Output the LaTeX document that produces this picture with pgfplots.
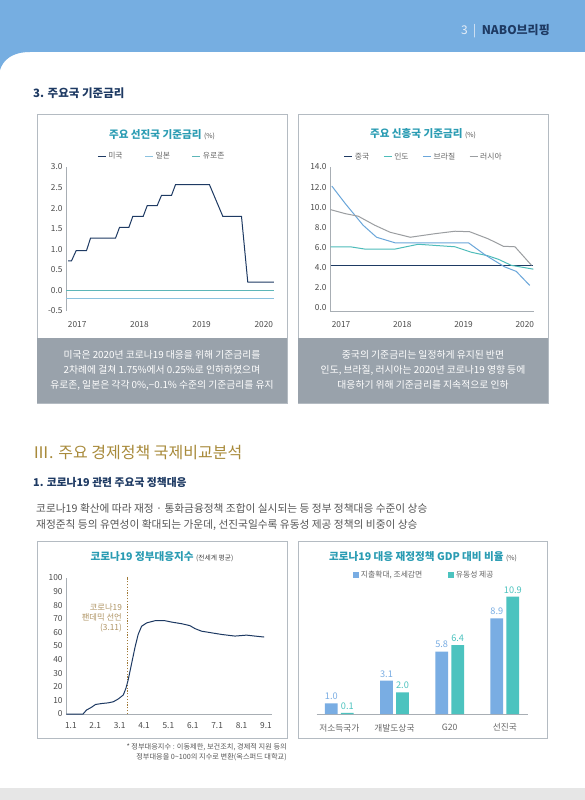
\documentclass[border=0pt]{standalone}
\usepackage{fontspec}
\setmainfont{Noto Sans CJK KR}
\usepackage{pgfplots}
\pgfplotsset{compat=1.18}
\definecolor{hdrblue}{HTML}{76AEE1}
\definecolor{hdrlight}{HTML}{E6EEF7}
\definecolor{navy}{HTML}{1E3A63}
\definecolor{titleteal}{HTML}{2A9CB3}
\definecolor{boxline}{HTML}{B4BBC2}
\definecolor{capgray}{HTML}{99A2AB}
\definecolor{axisgray}{HTML}{A8AEB4}
\definecolor{ticktext}{HTML}{4A4A4A}
\definecolor{legtext}{HTML}{666666}
\definecolor{gold}{HTML}{A88A3A}
\definecolor{bodygray}{HTML}{555555}
\definecolor{euteal}{HTML}{5DB6B8}
\definecolor{jplblue}{HTML}{8BC2DF}
\definecolor{inteal}{HTML}{4DBCBA}
\definecolor{brblue}{HTML}{6AA6DA}
\definecolor{rugray}{HTML}{9B9EA1}
\definecolor{tancol}{HTML}{B09565}
\definecolor{dotbrown}{HTML}{A07A38}
\definecolor{barblue}{HTML}{79ADE3}
\definecolor{barteal}{HTML}{4CC3BF}
\definecolor{footgray}{HTML}{E6E6E6}

\pgfplotsset{
  myaxis/.style={
    scale only axis,
    axis line style={draw=axisgray, line width=0.6pt},
    major tick style={draw=none},
    tick label style={font=\fontsize{8.3}{9}\selectfont, text=ticktext},
    /pgf/number format/assume math mode=true,
    legend cell align=left,
    clip=false,
  },
  lineleg/.style={
    legend style={draw=none, fill=none, font=\fontsize{7.8}{9}\selectfont, text=legtext, inner sep=0pt,
      /tikz/every even column/.append style={column sep=#1}},
    legend image code/.code={\draw[##1, line width=1pt] (0pt,0pt) -- (8pt,0pt);},
  },
}

\begin{document}
\begin{tikzpicture}[x=1pt,y=1pt]
\useasboundingbox (0,0) rectangle (585,-800);
\fill[white] (0,0) rectangle (585,-800);
% header
\fill[hdrblue] (0,0) -- (585,0) -- (585,-52) -- (30,-52) .. controls (12,-52) and (3,-60) .. (0,-70) -- cycle;
\node[anchor=east, inner sep=0pt, font=\fontsize{12}{14}\selectfont] at (550,-31)
  {{\color{hdrlight}3\ \ |\ \ }{\bfseries\color{navy}NABO브리핑}};
\fill[footgray] (0,-788) rectangle (585,-800);

% headings
\node[anchor=west, inner sep=0pt, font=\fontsize{11.5}{13}\selectfont\bfseries, text=navy] at (33,-93) {3. 주요국 기준금리};
\node[anchor=west, inner sep=0pt, font=\fontsize{16}{18}\selectfont, text=gold] at (33,-453) {Ⅲ. 주요 경제정책 국제비교분석};
\node[anchor=west, inner sep=0pt, font=\fontsize{10.8}{12}\selectfont\bfseries, text=navy] at (33,-482) {1. 코로나19 관련 주요국 정책대응};
\node[anchor=west, inner sep=0pt, font=\fontsize{10.7}{12}\selectfont, text=bodygray] at (36,-508) {코로나19 확산에 따라 재정 · 통화금융정책 조합이 실시되는 등 정부 정책대응 수준이 상승};
\node[anchor=west, inner sep=0pt, font=\fontsize{10.7}{12}\selectfont, text=bodygray] at (36,-525) {재정준칙 등의 유연성이 확대되는 가운데, 선진국일수록 유동성 제공 정책의 비중이 상승};

% boxes
\draw[boxline, line width=0.8pt, fill=white] (37,-114) rectangle (287,-403);
\draw[boxline, line width=0.8pt, fill=white] (298,-114) rectangle (548,-403);
\fill[capgray] (37,-338) rectangle (287,-403);
\fill[capgray] (298,-338) rectangle (548,-403);
\draw[boxline, line width=0.8pt, fill=white] (37,-541) rectangle (287,-738);
\draw[boxline, line width=0.8pt, fill=white] (298,-541) rectangle (547,-738);

% captions
\node[align=center, text=white, font=\fontsize{9.8}{15}\selectfont, inner sep=0pt] at (162,-370)
 {미국은 2020년 코로나19 대응을 위해 기준금리를\\2차례에 걸쳐 1.75\%에서 0.25\%로 인하하였으며\\유로존, 일본은 각각 0\%,−0.1\% 수준의 기준금리를 유지};
\node[align=center, text=white, font=\fontsize{9.8}{15}\selectfont, inner sep=0pt] at (423,-370)
 {중국의 기준금리는 일정하게 유지된 반면\\인도, 브라질, 러시아는 2020년 코로나19 영향 등에\\대응하기 위해 기준금리를 지속적으로 인하};

% titles
\node[text=titleteal, font=\fontsize{10.6}{12}\selectfont\bfseries, inner sep=0pt] at (162,-135) {주요 선진국 기준금리 {\mdseries\color{ticktext}\fontsize{6.8}{8}\selectfont (\%)}};
\node[text=titleteal, font=\fontsize{10.6}{12}\selectfont\bfseries, inner sep=0pt] at (423,-134) {주요 신흥국 기준금리 {\mdseries\color{ticktext}\fontsize{6.8}{8}\selectfont (\%)}};
\node[text=titleteal, font=\fontsize{10.6}{12}\selectfont\bfseries, inner sep=0pt] at (162,-557) {코로나19 정부대응지수 {\mdseries\color{ticktext}\fontsize{6.8}{8}\selectfont (전세계 평균)}};
\node[text=titleteal, font=\fontsize{10.6}{12}\selectfont\bfseries, inner sep=0pt] at (423,-557) {코로나19 대응 재정정책 GDP 대비 비율 {\mdseries\color{ticktext}\fontsize{6.8}{8}\selectfont (\%)}};

% footnote
\node[align=right, anchor=north east, text=bodygray, font=\fontsize{7.2}{10.5}\selectfont, inner sep=0pt] at (287,-743)
 {* 정부대응지수 : 이동제한, 보건조치, 경제적 지원 등의\\정부대응을 0\textasciitilde100의 지수로 변환(옥스퍼드 대학교)};

% ---------- Chart 1 ----------
\begin{axis}[myaxis, lineleg=20pt, at={(66pt,-311pt)}, anchor=south west, width=208.4pt, height=144pt,
  xmin=2016.82, xmax=2020.17, ymin=-0.5, ymax=3.0,
  axis y line*=left, axis x line*=bottom, x axis line style={draw=none},
  xtick={2017,2018,2019,2020}, xticklabels={2017,2018,2019,2020},
  xticklabel style={yshift=-7pt},
  ytick={-0.5,0,0.5,1,1.5,2,2.5,3},
  yticklabel style={/pgf/number format/.cd, fixed, fixed zerofill, precision=1},
  legend columns=3, legend style={at={(0.46,1.076)}, anchor=center}]
\addplot[navy, line width=1pt] coordinates {(2016.855,0.72)(2016.909,0.72)(2016.984,0.97)(2017.150,0.97)(2017.214,1.27)(2017.616,1.27)(2017.680,1.53)(2017.830,1.53)(2017.894,1.80)(2018.061,1.80)(2018.125,2.06)(2018.285,2.06)(2018.355,2.31)(2018.516,2.31)(2018.580,2.57)(2019.126,2.57)(2019.341,1.80)(2019.641,1.80)(2019.742,0.20)(2020.160,0.20)};
\addlegendentry{미국}
\addplot[jplblue, line width=1pt] coordinates {(2016.82,-0.19)(2020.16,-0.19)};
\addlegendentry{일본}
\addplot[euteal, line width=1.2pt] coordinates {(2016.82,0)(2020.16,0)};
\addlegendentry{유로존}
\end{axis}

% ---------- Chart 2 ----------
\begin{axis}[myaxis, lineleg=12pt, at={(330pt,-311pt)}, anchor=south west, width=204pt, height=144pt,
  xmin=2016.82, xmax=2020.15, ymin=-0.35, ymax=14,
  axis y line*=left, axis x line*=bottom,
  xtick={2017,2018,2019,2020}, xticklabels={2017,2018,2019,2020},
  xticklabel style={yshift=-7pt},
  ytick={0,2,4,6,8,10,12,14},
  yticklabel style={/pgf/number format/.cd, fixed, fixed zerofill, precision=1},
  legend columns=4, legend style={at={(0.46,1.07)}, anchor=center}]
\addplot[navy, line width=1pt] coordinates {(2016.83,4.2)(2020.14,4.2)};
\addlegendentry{중국}
\addplot[inteal, line width=1pt] coordinates {(2016.83,6.05)(2017.15,6.05)(2017.39,5.82)(2017.88,5.82)(2018.26,6.3)(2018.86,6.05)(2019.13,5.5)(2019.40,5.15)(2019.57,4.8)(2019.78,4.2)(2020.14,3.82)};
\addlegendentry{인도}
\addplot[brblue, line width=1pt] coordinates {(2016.85,12.1)(2017.07,10.35)(2017.36,8.2)(2017.58,7.0)(2017.88,6.45)(2019.08,6.45)(2019.35,5.25)(2019.67,4.05)(2019.86,3.6)(2020.08,2.2)};
\addlegendentry{브라질}
\addplot[rugray, line width=1pt] coordinates {(2016.83,9.75)(2017.07,9.35)(2017.28,9.1)(2017.55,8.2)(2017.80,7.5)(2018.13,7.0)(2018.53,7.35)(2018.86,7.6)(2019.10,7.55)(2019.40,6.85)(2019.65,6.1)(2019.84,6.05)(2020.11,4.2)};
\addlegendentry{러시아}
\end{axis}

% ---------- Chart 3 ----------
\begin{axis}[myaxis, at={(66pt,-714pt)}, anchor=south west, width=206pt, height=136pt,
  xmin=-0.2, xmax=8.25, ymin=0, ymax=100,
  axis y line*=left, axis x line*=bottom,
  xtick={0,1,2,3,4,5,6,7,8}, xticklabels={1.1,2.1,3.1,4.1,5.1,6.1,7.1,8.1,9.1},
  xticklabel style={yshift=-5pt},
  ytick={0,10,20,30,40,50,60,70,80,90,100}]
\addplot[dotbrown, line width=0.9pt, dash pattern=on 1.2pt off 1.6pt] coordinates {(2.32,0)(2.32,101)};
\addplot[navy, line width=1pt] coordinates {(-0.18,0)(0.5,0)(0.64,2.9)(0.85,5)(1.01,7)(1.26,7.7)(1.53,8.2)(1.74,9)(1.94,11)(2.15,14)(2.26,19)(2.35,25)(2.49,37)(2.63,49)(2.76,58.5)(2.9,64.5)(3.11,67)(3.45,68.6)(3.86,68.6)(4.13,67.6)(4.54,66.4)(4.88,65)(5.09,62.8)(5.36,60.9)(5.77,59.7)(6.18,58.5)(6.73,57.3)(7.21,58)(7.55,57.3)(7.93,56.6)};
\node[anchor=east, align=right, text=tancol, font=\fontsize{8.3}{10}\selectfont, inner sep=0pt] at (axis cs:2.1,70.6) {코로나19\\팬데믹 선언\\(3.11)};
\end{axis}

% ---------- Chart 4 ----------
\begin{axis}[myaxis, at={(316.7pt,-714pt)}, anchor=south west, width=211.3pt, height=129.1pt,
  xmin=-0.41, xmax=3.42, ymin=0, ymax=12,
  axis y line=none, axis x line*=bottom,
  ybar=3.3pt, bar width=12.7pt,
  xtick={0,1,2,3}, xticklabels={저소득국가,개발도상국,G20,선진국},
  xticklabel style={yshift=-2pt, font=\fontsize{8.7}{10}\selectfont, text=legtext},
  nodes near coords={\pgfmathprintnumber[fixed,fixed zerofill,precision=1]{\pgfplotspointmeta}},
  nodes near coords style={font=\fontsize{9.2}{10}\selectfont},
  legend columns=2,
  legend style={draw=none, fill=none, font=\fontsize{7.8}{9}\selectfont, text=legtext, inner sep=0pt,
    at={(0.51,1.077)}, anchor=center, /tikz/every even column/.append style={column sep=24pt}},
  legend image code/.code={\fill[#1] (0pt,-2.8pt) rectangle (5.6pt,2.8pt);}]
\addplot[fill=barblue, draw=none, every node near coord/.append style={text=barblue}] coordinates {(0,1.0)(1,3.1)(2,5.8)(3,8.9)};
\addlegendentry{지출확대, 조세감면}
\addplot[fill=barteal, draw=none, every node near coord/.append style={text=barteal}] coordinates {(0,0.1)(1,2.0)(2,6.4)(3,10.9)};
\addlegendentry{유동성 제공}
\end{axis}
\end{tikzpicture}
\end{document}
